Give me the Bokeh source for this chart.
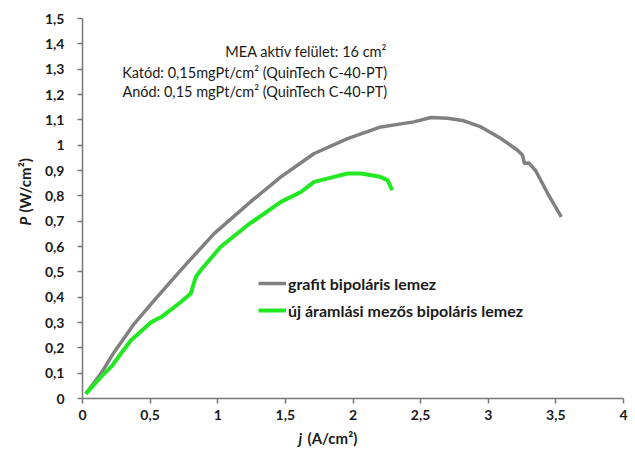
from bokeh.plotting import figure
from bokeh.models import Range1d, FixedTicker, Label, Legend, LegendItem
from bokeh.embed import file_html
from bokeh.resources import INLINE
import math

# ---- data ----
grafit_j = [0.025, 0.136, 0.234, 0.382, 0.53, 0.725, 0.973, 1.257, 1.467, 1.713, 1.96, 2.206,
            2.45, 2.576, 2.7, 2.82, 2.946, 3.094, 3.217, 3.254, 3.267, 3.30, 3.35, 3.44, 3.54]
grafit_P = [0.019, 0.098, 0.183, 0.295, 0.387, 0.506, 0.651, 0.783, 0.875, 0.967, 1.026, 1.072,
            1.092, 1.109, 1.106, 1.096, 1.072, 1.026, 0.98, 0.96, 0.928, 0.930, 0.90, 0.809, 0.717]

uj_j = [0.024, 0.135, 0.22, 0.246, 0.357, 0.505, 0.555, 0.58, 0.727, 0.80, 0.838, 0.874,
        1.02, 1.22, 1.467, 1.615, 1.713, 1.86, 1.96, 2.06, 2.2, 2.255, 2.29]
uj_P = [0.018, 0.084, 0.13, 0.15, 0.229, 0.30, 0.315, 0.32, 0.381, 0.414, 0.48, 0.506,
        0.598, 0.684, 0.776, 0.815, 0.855, 0.875, 0.888, 0.888, 0.875, 0.862, 0.822]

x_ticks = [0, 0.5, 1, 1.5, 2, 2.5, 3, 3.5, 4]
x_tick_labels = ["0", "0,5", "1", "1,5", "2", "2,5", "3", "3,5", "4"]
y_ticks = [round(i * 0.1, 1) for i in range(16)]
y_tick_labels = ["0", "0,1", "0,2", "0,3", "0,4", "0,5", "0,6", "0,7", "0,8", "0,9",
                 "1", "1,1", "1,2", "1,3", "1,4", "1,5"]

series_names = ["grafit bipoláris lemez", "új áramlási mezős bipoláris lemez"]
info_lines = ["MEA aktív felület: 16 cm²",
              "Katód: 0,15mgPt/cm² (QuinTech C-40-PT)",
              "Anód: 0,15 mgPt/cm² (QuinTech C-40-PT)"]
x_title = ["j", "(A/cm²)"]
y_title = ["P", "(W/cm²)"]

FONT = "Lato"
GRAY = "#808080"
GREEN = "#22e822"
AXIS = "#777777"
TXT = "#1a1a1a"

# frame covers the whole canvas; axes are placed at 0 inside it
W, H = 630, 448
X0, Y0 = 82, 398            # pixel position of the origin
SX, SY = 541 / 4, 380 / 1.5  # pixels per unit
x_range = Range1d(-X0 / SX, (W - X0) / SX)
y_range = Range1d((Y0 - H) / SY, Y0 / SY)

p = figure(frame_width=W, frame_height=H, output_backend="svg", toolbar_location=None,
           x_range=x_range, y_range=y_range,
           min_border_left=0, min_border_right=0, min_border_top=0, min_border_bottom=0)
p.outline_line_color = None
p.xgrid.visible = False
p.ygrid.visible = False
p.background_fill_color = "white"
p.border_fill_color = "white"

p.xaxis.fixed_location = 0
p.yaxis.fixed_location = 0
p.xaxis.bounds = (0, 4)
p.yaxis.bounds = (0, 1.5)

for ax, ticks, labels in ((p.xaxis[0], x_ticks, x_tick_labels), (p.yaxis[0], y_ticks, y_tick_labels)):
    ax.ticker = FixedTicker(ticks=ticks, minor_ticks=[])
    ax.major_label_overrides = {t: l for t, l in zip(ticks, labels)}
    ax.axis_line_color = AXIS
    ax.axis_line_width = 1.5
    ax.major_tick_line_color = AXIS
    ax.major_tick_line_width = 1.5
    ax.major_tick_in = 0
    ax.major_tick_out = 5
    ax.minor_tick_line_color = None
    ax.major_label_text_font = FONT
    ax.major_label_text_font_style = "bold"
    ax.major_label_text_font_size = "14px"
    ax.major_label_text_color = TXT
p.xaxis.major_label_standoff = 6
p.yaxis.major_label_standoff = 13

r1 = p.line(grafit_j, grafit_P, line_color=GRAY, line_width=3.5)
r2 = p.line(uj_j, uj_P, line_color=GREEN, line_width=4)

legend = Legend(items=[LegendItem(label=series_names[0], renderers=[r1]),
                       LegendItem(label=series_names[1], renderers=[r2])],
                location=(258, 128), orientation="vertical",
                label_text_font=FONT, label_text_font_style="bold", label_text_font_size="16px",
                label_text_color=TXT, glyph_width=28, glyph_height=20, label_height=20,
                spacing=7, padding=0, margin=0, label_standoff=2,
                border_line_alpha=0, background_fill_alpha=0)
p.add_layout(legend, "center")

info_y = [1.371, 1.2857, 1.2118]
for t, yy in zip(info_lines, info_y):
    p.add_layout(Label(x=2.253, y=yy, text=t, text_align="right", text_baseline="middle",
                       text_font=FONT, text_font_size="14.5px", text_color=TXT))

# axis titles (italic symbol + normal unit)
p.add_layout(Label(x=1.597, y=-0.154, text=x_title[0], text_align="left", text_baseline="middle",
                   text_font=FONT, text_font_style="bold italic", text_font_size="15px", text_color=TXT))
p.add_layout(Label(x=1.664, y=-0.154, text=x_title[1], text_align="left", text_baseline="middle",
                   text_font=FONT, text_font_style="bold", text_font_size="15px", text_color=TXT))
p.add_layout(Label(x=-0.4288, y=0.683, text=y_title[0], text_align="left", text_baseline="middle",
                   angle=math.pi / 2,
                   text_font=FONT, text_font_style="bold italic", text_font_size="15px", text_color=TXT))
p.add_layout(Label(x=-0.4288, y=0.734, text=y_title[1], text_align="left", text_baseline="middle",
                   angle=math.pi / 2,
                   text_font=FONT, text_font_style="bold", text_font_size="15px", text_color=TXT))

open("out.html", "w").write(file_html(p, INLINE))
